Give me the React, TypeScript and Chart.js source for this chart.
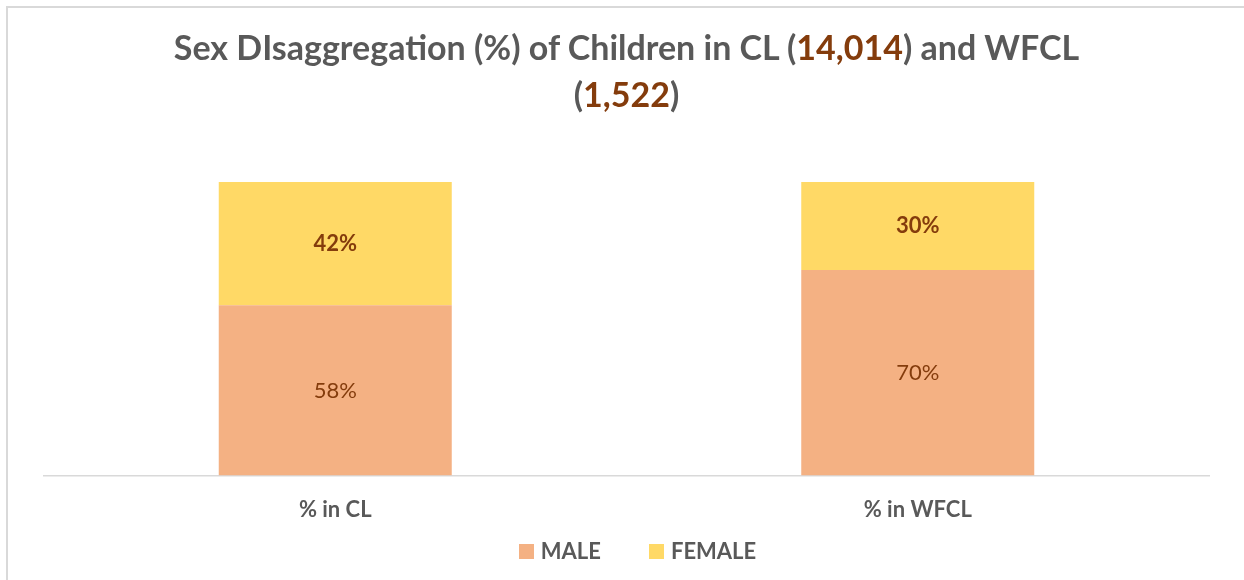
import React, { useEffect, useRef } from "react";
import { Chart, registerables } from "chart.js";

Chart.register(...registerables);

const categories = ["% in CL", "% in WFCL"];
const seriesNames = ["MALE", "FEMALE"];
const maleValues = [58, 70];
const femaleValues = [42, 30];
const titleLine1 = ["Sex DIsaggregation (%) of Children in CL (", "14,014", ") and WFCL"];
const titleLine2 = ["(", "1,522", ")"];

const MALE_COLOR = "#F4B183";
const FEMALE_COLOR = "#FFD966";
const LABEL_COLOR = "#843C0C";
const TEXT_GREY = "#595959";
const FONT = "Lato, 'Open Sans', sans-serif";

const valueLabels = {
  id: "valueLabels",
  afterDatasetsDraw(chart: any) {
    const ctx = chart.ctx;
    ctx.save();
    chart.data.datasets.forEach((ds: any, di: number) => {
      const meta = chart.getDatasetMeta(di);
      meta.data.forEach((bar: any, i: number) => {
        const v = ds.data[i];
        const y = (bar.y + bar.base) / 2;
        ctx.font = `${di === 1 ? "bold " : ""}22px ${FONT}`;
        ctx.fillStyle = LABEL_COLOR;
        ctx.textAlign = "center";
        ctx.textBaseline = "middle";
        ctx.fillText(`${v}%`, bar.x, y);
      });
    });
    ctx.restore();
  },
};

export default function App() {
  const ref = useRef<HTMLCanvasElement | null>(null);

  useEffect(() => {
    document.documentElement.style.overflow = "hidden";
    document.body.style.margin = "0";
    document.body.style.overflow = "hidden";
    const chart = new Chart(ref.current as HTMLCanvasElement, {
      type: "bar",
      data: {
        labels: categories,
        datasets: [
          {
            label: seriesNames[0],
            data: maleValues,
            backgroundColor: MALE_COLOR,
            categoryPercentage: 0.8,
            barPercentage: 0.5,
          },
          {
            label: seriesNames[1],
            data: femaleValues,
            backgroundColor: FEMALE_COLOR,
            categoryPercentage: 0.8,
            barPercentage: 0.5,
          },
        ],
      },
      options: {
        animation: false,
        responsive: false,
        maintainAspectRatio: false,
        layout: { padding: { left: 44, right: 35, top: 182, bottom: 36 } },
        plugins: {
          legend: { display: false },
          title: { display: false },
          tooltip: { enabled: false },
        },
        scales: {
          x: {
            stacked: true,
            grid: { display: false, drawTicks: false },
            border: { display: true, color: "#D9D9D9", width: 1.5 },
            ticks: {
              color: TEXT_GREY,
              font: { family: FONT, size: 22, weight: "bold" },
              padding: 21,
            },
          },
          y: {
            stacked: true,
            display: false,
            min: 0,
            max: 100,
          },
        },
      },
      plugins: [valueLabels],
    } as any);
    return () => chart.destroy();
  }, []);

  return (
    <div style={{ position: "relative", width: 1244, height: 580, overflow: "hidden", background: "#fff" }}>
      <div
        style={{
          position: "absolute",
          left: 6,
          top: 6,
          width: 1300,
          height: 640,
          border: "2px solid #D9D9D9",
          boxSizing: "border-box",
        }}
      />
      <canvas ref={ref} width={1244} height={580} style={{ position: "absolute", left: 0, top: 0 }} />
      <div
        style={{
          position: "absolute",
          left: 0,
          top: 23,
          width: 1253,
          textAlign: "center",
          fontFamily: FONT,
          fontWeight: 700,
          fontSize: 34,
          lineHeight: "47px",
          color: TEXT_GREY,
        }}
      >
        <div>
          {titleLine1[0]}
          <span style={{ color: LABEL_COLOR }}>{titleLine1[1]}</span>
          {titleLine1[2]}
        </div>
        <div>
          {titleLine2[0]}
          <span style={{ color: LABEL_COLOR }}>{titleLine2[1]}</span>
          {titleLine2[2]}
        </div>
      </div>
      <div
        style={{
          position: "absolute",
          left: 0,
          top: 538,
          width: 1275,
          display: "flex",
          justifyContent: "center",
          gap: 48,
          fontFamily: FONT,
          fontWeight: 700,
          fontSize: 22,
          lineHeight: "26px",
          color: TEXT_GREY,
        }}
      >
        {seriesNames.map((name, i) => (
          <div key={name} style={{ display: "flex", alignItems: "center" }}>
            <span
              style={{
                display: "inline-block",
                width: 15,
                height: 15,
                marginRight: 7,
                background: i === 0 ? MALE_COLOR : FEMALE_COLOR,
              }}
            />
            <span>{name}</span>
          </div>
        ))}
      </div>
    </div>
  );
}
